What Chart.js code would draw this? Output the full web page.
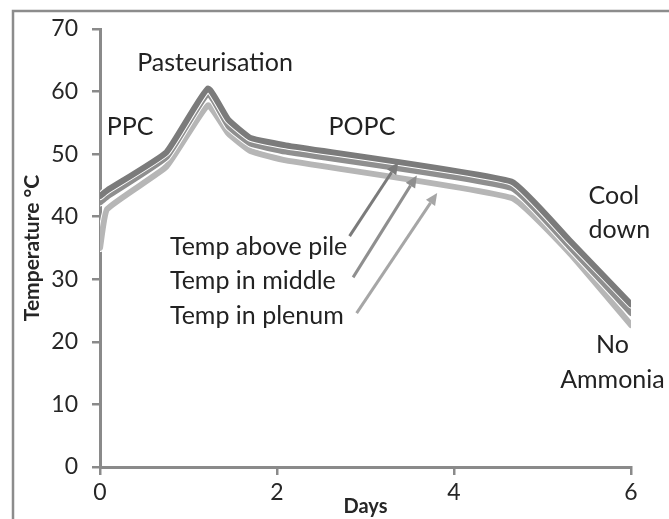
<!DOCTYPE html>
<html>
<head>
<meta charset="utf-8">
<script src="https://cdn.jsdelivr.net/npm/chart.js@4.4.1/dist/chart.umd.min.js"></script>
<style>
  html, body { margin: 0; padding: 0; background: #fff; }
  #wrap { width: 669px; height: 519px; }
</style>
</head>
<body>
<div id="wrap"><canvas id="chart" width="669" height="519"></canvas></div>
<script>
// Compost temperature profile
const days = [0, 0.08, 0.75, 1.22, 1.45, 1.7, 2.1, 4.65, 5.3, 6];
const tempAbovePile = [43.3, 44.2, 50.3, 60.5, 55.5, 52.6, 51.4, 45.6, 36.3, 26.0];
const tempMiddle = [42.3, 43.2, 49.5, 59.7, 54.5, 51.7, 50.4, 44.6, 35.3, 24.6];
const tempPlenum = [35.0, 41.2, 48.0, 57.8, 53.3, 50.5, 49.0, 43.0, 34.3, 22.7];
const xTicks = [0, 2, 4, 6];
const yTicks = [0, 10, 20, 30, 40, 50, 60, 70];

// Text notes on the plot, placed in data units (days, °C)
const phaseLabels = [
    { text: 'PPC', x: 0.34, y: 54.3, align: 'center' },
    { text: 'Pasteurisation', x: 1.3, y: 64.6, align: 'center' },
    { text: 'POPC', x: 2.96, y: 54.3, align: 'center' },
    { text: 'Cool', x: 5.52, y: 43.3, align: 'left' },
    { text: 'down', x: 5.52, y: 37.9, align: 'left' },
    { text: 'No', x: 5.79, y: 19.5, align: 'center' },
    { text: 'Ammonia', x: 5.79, y: 13.9, align: 'center' },
    { text: 'Temp above pile', x: 0.79, y: 35.1, align: 'left' },
    { text: 'Temp in middle', x: 0.79, y: 29.7, align: 'left' },
    { text: 'Temp in plenum', x: 0.79, y: 24.1, align: 'left' }
];

const arrows = [
    { from: [2.82, 36.9], to: [3.37, 48.7], color: '#7b7b7b' },
    { from: [2.86, 30.3], to: [3.58, 46.6], color: '#8f8f8f' },
    { from: [2.90, 24.6], to: [3.81, 43.8], color: '#a6a6a6' }
];

const toPoints = (xs, ys) => xs.map((d, i) => ({ x: d, y: ys[i] }));

function lineSet(label, values, color, width) {
    return {
        label: label,
        data: toPoints(days, values),
        borderColor: color,
        borderWidth: width,
        pointRadius: 0,
        fill: false,
        tension: 0.12,
        borderCapStyle: 'round',
        borderJoinStyle: 'round'
    };
}

const annotationPlugin = {
    id: 'annotations',
    beforeDraw(chart) {
        const ctx = chart.ctx;
        ctx.save();
        ctx.strokeStyle = '#8c8c8c';
        ctx.lineWidth = 2.5;
        ctx.beginPath();
        ctx.moveTo(13, 519);
        ctx.lineTo(13, 11);
        ctx.lineTo(669, 11);
        ctx.stroke();
        ctx.restore();
    },
    afterDatasetsDraw(chart) {
        const { ctx, scales: { x, y } } = chart;
        ctx.save();

        arrows.forEach(a => {
            const x0 = x.getPixelForValue(a.from[0]), y0 = y.getPixelForValue(a.from[1]);
            const x1 = x.getPixelForValue(a.to[0]), y1 = y.getPixelForValue(a.to[1]);
            const ang = Math.atan2(y1 - y0, x1 - x0);
            const head = 12, half = 5.5;
            const bx = x1 - head * Math.cos(ang), by = y1 - head * Math.sin(ang);
            ctx.strokeStyle = a.color;
            ctx.fillStyle = a.color;
            ctx.lineWidth = 3;
            ctx.beginPath();
            ctx.moveTo(x0, y0);
            ctx.lineTo(bx, by);
            ctx.stroke();
            ctx.beginPath();
            ctx.moveTo(x1, y1);
            ctx.lineTo(bx + half * Math.sin(ang), by - half * Math.cos(ang));
            ctx.lineTo(bx - half * Math.sin(ang), by + half * Math.cos(ang));
            ctx.closePath();
            ctx.fill();
        });

        ctx.fillStyle = '#222222';
        ctx.font = '25px Lato';
        ctx.textBaseline = 'middle';
        phaseLabels.forEach(l => {
            ctx.textAlign = l.align;
            ctx.fillText(l.text, x.getPixelForValue(l.x), y.getPixelForValue(l.y));
        });
        ctx.restore();
    }
};

const axisGrey = '#8a8a8a';

new Chart(document.getElementById('chart').getContext('2d'), {
    type: 'line',
    data: {
        datasets: [
            lineSet('Temp above pile', tempAbovePile, '#7b7b7b', 6),
            lineSet('', tempAbovePile, '#ffffff', 8),
            lineSet('Temp in middle', tempMiddle, '#8f8f8f', 6),
            lineSet('', tempMiddle, '#ffffff', 8),
            lineSet('Temp in plenum', tempPlenum, '#b6b6b6', 6),
            lineSet('', tempPlenum, '#ffffff', 8)
        ]
    },
    options: {
        responsive: false,
        animation: false,
        layout: { padding: { left: 0, top: 29, right: 38, bottom: 0 } },
        plugins: {
            legend: { display: false },
            tooltip: { enabled: false }
        },
        scales: {
            x: {
                type: 'linear',
                min: 0,
                max: 6,
                afterBuildTicks: s => { s.ticks = xTicks.map(v => ({ value: v })); },
                afterFit: s => { s.height = 52; },
                border: { color: axisGrey, width: 3 },
                grid: { drawOnChartArea: false, drawTicks: true, tickLength: 8, color: axisGrey, lineWidth: 2.5 },
                ticks: { color: '#262626', font: { family: 'Lato', size: 23 }, padding: 4, maxRotation: 0 },
                title: {
                    display: true,
                    text: 'Days',
                    color: '#262626',
                    font: { family: 'Lato', size: 20, weight: 'bold' },
                    padding: { top: 0, bottom: 0 }
                }
            },
            y: {
                min: 0,
                max: 70,
                afterBuildTicks: s => { s.ticks = yTicks.map(v => ({ value: v })); },
                afterFit: s => { s.width = 100; },
                border: { color: axisGrey, width: 3 },
                grid: { drawOnChartArea: false, drawTicks: true, tickLength: 8, color: axisGrey, lineWidth: 2.5 },
                ticks: { color: '#262626', font: { family: 'Lato', size: 23 }, padding: 14 },
                title: {
                    display: true,
                    text: 'Temperature °C',
                    color: '#262626',
                    font: { family: 'Lato', size: 21, weight: 'bold' },
                    padding: { top: 20, bottom: 0 }
                }
            }
        }
    },
    plugins: [annotationPlugin]
});
</script>
</body>
</html>
